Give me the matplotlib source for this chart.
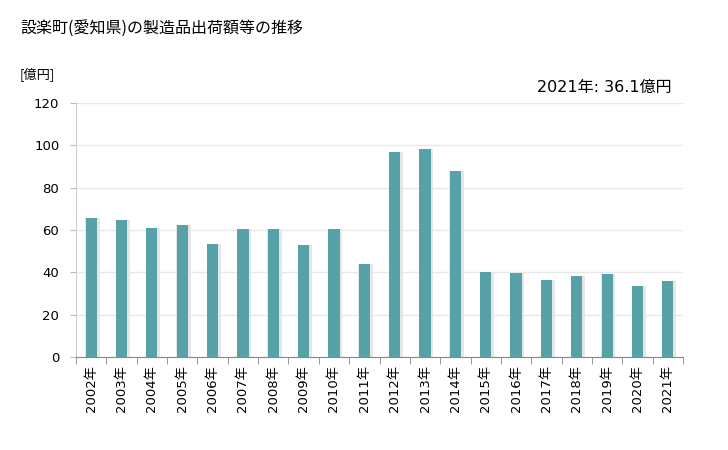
import matplotlib.pyplot as plt
import numpy as np

plt.rcParams['font.family'] = ['Noto Sans CJK JP', 'DejaVu Sans']
num_font = ['DejaVu Sans', 'Noto Sans CJK JP']

# data
years = [str(y) + '年' for y in range(2002, 2022)]
values = [65.8, 64.7, 61.1, 62.3, 53.4, 60.5, 60.5, 52.9, 60.5, 44.0,
          96.8, 98.2, 87.9, 40.2, 39.7, 36.4, 38.3, 39.2, 33.6, 36.1]
y_ticks = [0, 20, 40, 60, 80, 100, 120]

bar_color = '#57a1a9'

fig = plt.figure(figsize=(7.28, 4.5), dpi=100)
ax = fig.add_axes([76 / 728, 1 - 357 / 450, (683 - 76) / 728, (357 - 103) / 450])

x = np.arange(len(values))
# light shadow behind the bars
ax.bar(x + 0.04, values, width=0.47, color='#e6e6e6', zorder=2)
ax.bar(x, values, width=0.37, color=bar_color, zorder=3)

ax.set_xlim(-0.5, len(values) - 0.5)
ax.set_ylim(0, 120)
ax.set_yticks(y_ticks)
ax.set_yticklabels([str(v) for v in y_ticks], fontsize=9.5, family=num_font)
ax.set_xticks(x)
ax.set_xticklabels(years, rotation=90, fontsize=9.5, family=num_font)
ax.tick_params(axis='x', length=0, pad=6)
ax.set_xticks(np.arange(-0.5, len(values)), minor=True)
ax.tick_params(axis='x', which='minor', length=5, color='#888888')
ax.tick_params(axis='y', length=4, color='#bbbbbb', pad=8)

ax.grid(axis='y', color='#e8e8e8', linewidth=1, zorder=0)
for s in ['top', 'right']:
    ax.spines[s].set_visible(False)
ax.spines['left'].set_color('#cccccc')
ax.spines['bottom'].set_color('#888888')

fig.text(20 / 728, 1 - 28 / 450, '設楽町(愛知県)の製造品出荷額等の推移', fontsize=11.5, va='center', ha='left')
fig.text(20 / 728, 1 - 75 / 450, '[億円]', fontsize=9.5, va='center', ha='left')
fig.text(672 / 728, 1 - 87 / 450, '2021年: 36.1億円', fontsize=11.5, va='center', ha='right',
         family=num_font)

fig.savefig('out.png', dpi=100)
